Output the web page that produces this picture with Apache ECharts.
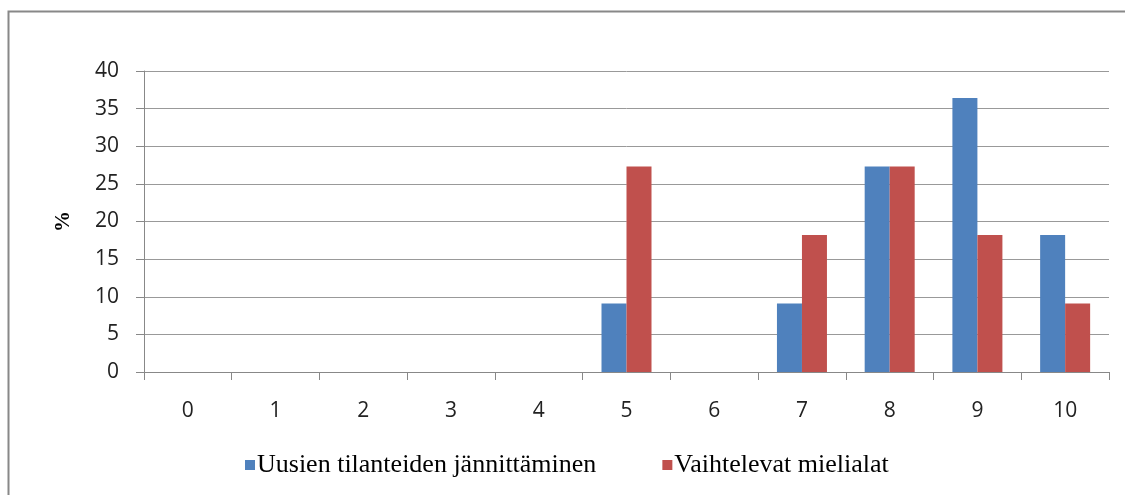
<!DOCTYPE html>
<html>
<head>
<meta charset="utf-8">
<script src="https://cdn.jsdelivr.net/npm/echarts@6/dist/echarts.min.js"></script>
<style>
  html, body { margin: 0; padding: 0; background: #fff; }
  #chart { width: 1125px; height: 495px; }
</style>
</head>
<body>
<div id="chart"></div>
<script>
// Score categories 0–10
const categories = ['0', '1', '2', '3', '4', '5', '6', '7', '8', '9', '10'];
// Share of respondents (%) per score
const seriesNames = ['Uusien tilanteiden jännittäminen', 'Vaihtelevat mielialat'];
const uusienValues = [0, 0, 0, 0, 0, 9.1, 0, 9.1, 27.3, 36.4, 18.2];
const vaihtelevatValues = [0, 0, 0, 0, 0, 27.3, 0, 18.2, 27.3, 18.2, 9.1];
const yTicks = { min: 0, max: 40, interval: 5 };

const chart = echarts.init(document.getElementById('chart'));
const axisFont = '"Open Sans", "Noto Sans", sans-serif';
const serifFont = '"Liberation Serif", "DejaVu Serif", serif';

chart.setOption({
  animation: false,
  backgroundColor: '#fff',
  graphic: [{
    type: 'rect',
    shape: { x: 8.5, y: 11.5, width: 1200, height: 600 },
    style: { fill: 'none', stroke: '#888', lineWidth: 2 },
    silent: true
  }],
  grid: { left: 144, right: 16, top: 71, bottom: 123 },
  legend: {
    bottom: 12,
    left: 240,
    itemWidth: 10,
    itemHeight: 10,
    itemGap: 66,
    icon: 'rect',
    textStyle: { fontFamily: serifFont, fontSize: 26, color: '#000', padding: [0, 0, 0, -3] },
    data: seriesNames
  },
  xAxis: {
    type: 'category',
    data: categories,
    axisLine: { lineStyle: { color: '#888', width: 1 } },
    axisTick: { show: true, length: 8, lineStyle: { color: '#888' } },
    axisLabel: { color: '#222', fontFamily: axisFont, fontSize: 21, margin: 29 }
  },
  yAxis: {
    type: 'value',
    min: yTicks.min,
    max: yTicks.max,
    interval: yTicks.interval,
    name: '%',
    nameLocation: 'middle',
    nameGap: 70,
    nameRotate: 90,
    nameTextStyle: { fontFamily: serifFont, fontWeight: 'bold', fontSize: 21, color: '#000' },
    axisLine: { show: true, lineStyle: { color: '#888', width: 1 } },
    axisTick: { show: true, length: 8, lineStyle: { color: '#888' } },
    axisLabel: { color: '#222', fontFamily: axisFont, fontSize: 21, margin: 25 },
    splitLine: { lineStyle: { color: '#999', width: 1 } }
  },
  series: [
    {
      name: seriesNames[0],
      type: 'bar',
      data: uusienValues,
      barGap: '0%',
      barCategoryGap: '43%',
      itemStyle: { color: '#4F81BD' }
    },
    {
      name: seriesNames[1],
      type: 'bar',
      data: vaihtelevatValues,
      barGap: '0%',
      barCategoryGap: '43%',
      itemStyle: { color: '#C0504D' }
    }
  ]
});
</script>
</body>
</html>
